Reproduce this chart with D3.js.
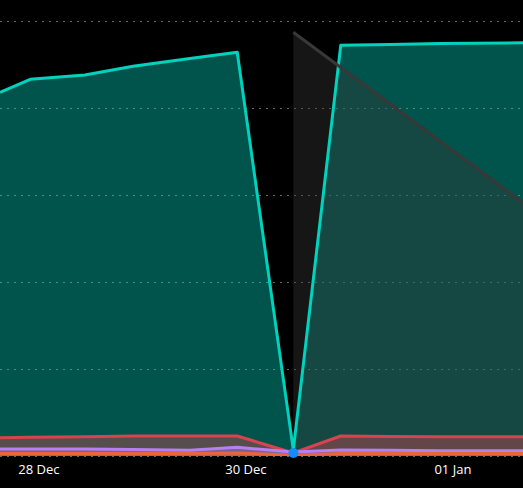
<!DOCTYPE html>
<html lang="en">
	<head>
		<meta charset="utf-8">
		<title>Area chart</title>
		<script type="text/javascript" src="https://cdn.jsdelivr.net/npm/d3@7"></script>
		<style type="text/css">
			body { margin: 0; background: #000; }
			svg { display: block; }
		</style>
	</head>
	<body>
		<script type="text/javascript">
			//Data
			var times = ["2023-12-27T15:00", "2023-12-27T22:00", "2023-12-28T10:40", "2023-12-28T21:50",
						 "2023-12-29T11:00", "2023-12-29T22:00", "2023-12-30T11:00", "2023-12-30T22:00",
						 "2023-12-31T09:30", "2023-12-31T21:00", "2024-01-01T16:15"];
			var tealValues   = [418, 433, 438, 448, 457, 464, 7, 472, 473, 474, 475];
			var redValues    = [21, 21.5, 22, 23, 23, 23, 3.5, 23, 22.5, 22, 22];
			var purpleValues = [8, 8, 8, 7.5, 6.5, 10, 4.5, 7, 6.5, 6, 6];
			var orangeValues = [3, 3, 3, 3, 3, 3.5, 1, 3, 3, 3, 3];
			var grayTimes  = ["2023-12-30T11:00", "2024-01-01T16:15"];
			var grayValues = [487, 291];
			var markerTime = "2023-12-30T11:00";
			var markerValue = 3.5;
			var tickDates = ["2023-12-28", "2023-12-30", "2024-01-01"];
			var tickLabels = ["28 Dec", "30 Dec", "01 Jan"];
			var gridValues = [0, 100, 200, 300, 400, 500];

			//Width and height
			var w = 523;
			var h = 488;
			var plotTop = 21;
			var plotBottom = 456;

			var parse = d3.timeParse("%Y-%m-%dT%H:%M");
			var parseDay = d3.timeParse("%Y-%m-%d");

			var x = d3.scaleTime()
					  .domain([parse(times[0]), parse(times[times.length - 1])])
					  .range([0, w]);
			var y = d3.scaleLinear()
					  .domain([0, 500])
					  .range([plotBottom, plotTop]);

			var svg = d3.select("body")
						.append("svg")
						.attr("width", w)
						.attr("height", h)
						.style("background", "#000");

			//Gridlines
			svg.append("g")
			   .selectAll("line")
			   .data(gridValues)
			   .enter()
			   .append("line")
			   .attr("x1", 0)
			   .attr("x2", w)
			   .attr("y1", function(d) { return y(d) + 0.5; })
			   .attr("y2", function(d) { return y(d) + 0.5; })
			   .style("stroke", "#6a6a6a")
			   .style("stroke-width", 1)
			   .style("stroke-dasharray", "2,5");

			function makeSeries(ts, vs) {
				return ts.map(function(t, i) { return { date: parse(t), value: vs[i] }; });
			}

			var series = [
				{ name: "teal", color: "#00d3bd", data: makeSeries(times, tealValues) },
				{ name: "gray", color: "#383838", data: makeSeries(grayTimes, grayValues) },
				{ name: "red", color: "#d8434f", data: makeSeries(times, redValues) },
				{ name: "purple", color: "#b77ff2", data: makeSeries(times, purpleValues) },
				{ name: "orange", color: "#e8663a", data: makeSeries(times, orangeValues) }
			];

			var area = d3.area()
						 .x(function(d) { return x(d.date); })
						 .y0(y(0))
						 .y1(function(d) { return y(d.value); });
			var line = d3.line()
						 .x(function(d) { return x(d.date); })
						 .y(function(d) { return y(d.value); });

			svg.append("clipPath")
			   .attr("id", "clip")
			   .append("rect")
			   .attr("x", 0)
			   .attr("y", 0)
			   .attr("width", w)
			   .attr("height", plotBottom);

			var plot = svg.append("g").attr("clip-path", "url(#clip)");

			series.forEach(function(s) {
				plot.append("path")
					.datum(s.data)
					.attr("d", area)
					.style("fill", s.color)
					.style("fill-opacity", 0.4);
			});
			series.forEach(function(s) {
				plot.append("path")
					.datum(s.data)
					.attr("d", line)
					.style("fill", "none")
					.style("stroke", s.color)
					.style("stroke-width", 3)
					.style("stroke-linejoin", "round");
			});

			//Hover marker
			svg.append("circle")
			   .attr("cx", x(parse(markerTime)))
			   .attr("cy", y(markerValue))
			   .attr("r", 5)
			   .style("fill", "#118dff");

			//X axis labels
			svg.append("g")
			   .selectAll("text")
			   .data(tickDates)
			   .enter()
			   .append("text")
			   .attr("x", function(d) { return x(parseDay(d)); })
			   .attr("y", 474)
			   .attr("text-anchor", "middle")
			   .style("fill", "#ffffff")
			   .style("font-family", "'Open Sans', 'Noto Sans', sans-serif")
			   .style("font-size", "13px")
			   .text(function(d, i) { return tickLabels[i]; });
		</script>
	</body>
</html>
